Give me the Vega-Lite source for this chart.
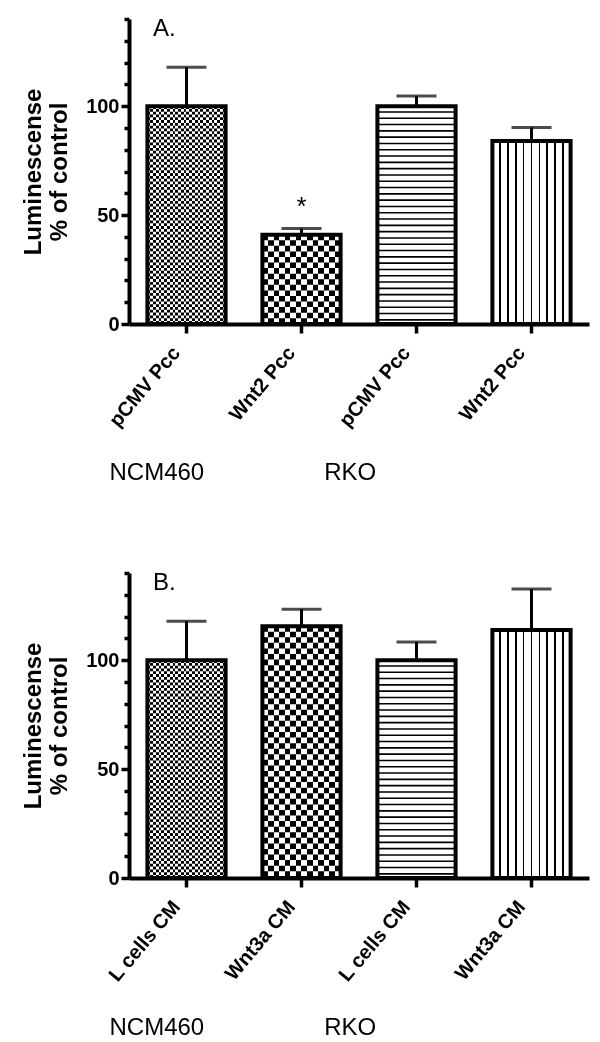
{
"$schema": "https://vega.github.io/schema/vega-lite/v6.json",
"background": "white",
"padding": {"left": 21, "top": 17, "right": 5, "bottom": 5},
"spacing": 86,
"config": {
  "font": "Liberation Sans",
  "view": {"stroke": null},
  "axis": {"domainColor": "black", "domainWidth": 4, "tickColor": "black", "tickWidth": 3.5, "labelColor": "black", "titleColor": "black", "grid": false},
  "title": {"color": "black"}
},
"datasets": {
  "a": [
    {"key": "NCM460|pCMV Pcc", "mean": 100, "err": 117.8, "i": 1},
    {"key": "NCM460|Wnt2 Pcc", "mean": 41, "err": 43.8, "i": 2, "sig": "*"},
    {"key": "RKO|pCMV Pcc", "mean": 100, "err": 104.7, "i": 3},
    {"key": "RKO|Wnt2 Pcc", "mean": 84, "err": 90.2, "i": 4}
  ],
  "b": [
    {"key": "NCM460|L cells CM", "mean": 100, "err": 117.9, "i": 1},
    {"key": "NCM460|Wnt3a CM", "mean": 115.6, "err": 123.4, "i": 2},
    {"key": "RKO|L cells CM", "mean": 100, "err": 108.3, "i": 3},
    {"key": "RKO|Wnt3a CM", "mean": 113.8, "err": 132.6, "i": 4}
  ]
},
"vconcat": [
{
  "width": 460, "height": 305,
  "data": {"name": "a"},
  "title": {"text": "A.", "anchor": "start", "frame": "group", "fontSize": 24, "fontWeight": "normal", "dx": 24, "offset": -24},
  "encoding": {
    "x": {"field": "key", "type": "nominal", "sort": null, "scale": {"paddingInner": 0.32, "paddingOuter": 0.16},
      "axis": {"labelExpr": "split(datum.label,'|')[1]", "labelAngle": -50, "labelAlign": "right", "labelBaseline": "middle", "labelFontSize": 20, "labelFontWeight": "bold", "labelPadding": 16, "labelOffset": -10, "tickSize": 9,
        "title": "NCM460\u00a0\u00a0\u00a0\u00a0\u00a0\u00a0\u00a0\u00a0\u00a0\u00a0\u00a0\u00a0\u00a0\u00a0\u00a0\u00a0\u00a0\u00a0RKO", "titleFontSize": 24, "titleFontWeight": "normal", "titleX": -20, "titleAlign": "left", "titlePadding": 30}},
    "y": {"field": "mean", "type": "quantitative", "scale": {"domain": [0, 140], "nice": false},
      "axis": {"values": [0,10,20,30,40,50,60,70,80,90,100,110,120,130,140], "labelExpr": "datum.value % 50 === 0 ? datum.label : ''", "tickSize": 8, "tickDash": {"condition": {"test": "datum.value % 50 === 0", "value": [10, 0]}, "value": [5, 20]}, "labelFontSize": 20, "labelFontWeight": "bold", "labelPadding": 2, "title": ["Luminescense", "% of control"], "titleFontSize": 24, "titleFontWeight": "bold", "titlePadding": 14, "titleLineHeight": 26}}
  },
  "layer": [
    {"transform": [{"filter": "datum.i == 1"}], "mark": {"type": "rule", "strokeWidth": 78, "color": "black", "strokeDash": [2.79, 2.79]}, "encoding": {"y2": {"datum": 0}}},
    {"transform": [{"filter": "datum.i == 2"}], "mark": {"type": "rule", "strokeWidth": 78, "color": "black", "strokeDash": [5.57, 5.57]}, "encoding": {"y2": {"datum": 0}}},
    {"transform": [{"filter": "datum.i == 1"}], "mark": {"type": "bar", "blend": "difference", "fill": {"gradient": "linear", "x1": 0, "y1": 0, "x2": 1, "y2": 0, "stops": [{"offset":0,"color":"black"},{"offset":0.0357,"color":"black"},{"offset":0.0357,"color":"white"},{"offset":0.0714,"color":"white"},{"offset":0.0714,"color":"black"},{"offset":0.1071,"color":"black"},{"offset":0.1071,"color":"white"},{"offset":0.1429,"color":"white"},{"offset":0.1429,"color":"black"},{"offset":0.1786,"color":"black"},{"offset":0.1786,"color":"white"},{"offset":0.2143,"color":"white"},{"offset":0.2143,"color":"black"},{"offset":0.25,"color":"black"},{"offset":0.25,"color":"white"},{"offset":0.2857,"color":"white"},{"offset":0.2857,"color":"black"},{"offset":0.3214,"color":"black"},{"offset":0.3214,"color":"white"},{"offset":0.3571,"color":"white"},{"offset":0.3571,"color":"black"},{"offset":0.3929,"color":"black"},{"offset":0.3929,"color":"white"},{"offset":0.4286,"color":"white"},{"offset":0.4286,"color":"black"},{"offset":0.4643,"color":"black"},{"offset":0.4643,"color":"white"},{"offset":0.5,"color":"white"},{"offset":0.5,"color":"black"},{"offset":0.5357,"color":"black"},{"offset":0.5357,"color":"white"},{"offset":0.5714,"color":"white"},{"offset":0.5714,"color":"black"},{"offset":0.6071,"color":"black"},{"offset":0.6071,"color":"white"},{"offset":0.6429,"color":"white"},{"offset":0.6429,"color":"black"},{"offset":0.6786,"color":"black"},{"offset":0.6786,"color":"white"},{"offset":0.7143,"color":"white"},{"offset":0.7143,"color":"black"},{"offset":0.75,"color":"black"},{"offset":0.75,"color":"white"},{"offset":0.7857,"color":"white"},{"offset":0.7857,"color":"black"},{"offset":0.8214,"color":"black"},{"offset":0.8214,"color":"white"},{"offset":0.8571,"color":"white"},{"offset":0.8571,"color":"black"},{"offset":0.8929,"color":"black"},{"offset":0.8929,"color":"white"},{"offset":0.9286,"color":"white"},{"offset":0.9286,"color":"black"},{"offset":0.9643,"color":"black"},{"offset":0.9643,"color":"white"},{"offset":1,"color":"white"}]}}},
    {"transform": [{"filter": "datum.i == 2"}], "mark": {"type": "bar", "blend": "difference", "fill": {"gradient": "linear", "x1": 0, "y1": 0, "x2": 1, "y2": 0, "stops": [{"offset":0,"color":"black"},{"offset":0.0714,"color":"black"},{"offset":0.0714,"color":"white"},{"offset":0.1429,"color":"white"},{"offset":0.1429,"color":"black"},{"offset":0.2143,"color":"black"},{"offset":0.2143,"color":"white"},{"offset":0.2857,"color":"white"},{"offset":0.2857,"color":"black"},{"offset":0.3571,"color":"black"},{"offset":0.3571,"color":"white"},{"offset":0.4286,"color":"white"},{"offset":0.4286,"color":"black"},{"offset":0.5,"color":"black"},{"offset":0.5,"color":"white"},{"offset":0.5714,"color":"white"},{"offset":0.5714,"color":"black"},{"offset":0.6429,"color":"black"},{"offset":0.6429,"color":"white"},{"offset":0.7143,"color":"white"},{"offset":0.7143,"color":"black"},{"offset":0.7857,"color":"black"},{"offset":0.7857,"color":"white"},{"offset":0.8571,"color":"white"},{"offset":0.8571,"color":"black"},{"offset":0.9286,"color":"black"},{"offset":0.9286,"color":"white"},{"offset":1,"color":"white"}]}}},
    {"transform": [{"filter": "datum.i == 3"}], "mark": {"type": "rule", "strokeWidth": 78, "color": "black", "strokeDash": [1.6, 4.7], "strokeDashOffset": -5}, "encoding": {"y2": {"datum": 0}}},
    {"transform": [{"filter": "datum.i == 4"}], "mark": {"type": "bar", "fill": {"gradient": "linear", "x1": 0, "y1": 0, "x2": 1, "y2": 0, "stops": [{"offset":0,"color":"white"},{"offset":0.09,"color":"white"},{"offset":0.09,"color":"black"},{"offset":0.11,"color":"black"},{"offset":0.11,"color":"white"},{"offset":0.19,"color":"white"},{"offset":0.19,"color":"black"},{"offset":0.21,"color":"black"},{"offset":0.21,"color":"white"},{"offset":0.29,"color":"white"},{"offset":0.29,"color":"black"},{"offset":0.31,"color":"black"},{"offset":0.31,"color":"white"},{"offset":0.39,"color":"white"},{"offset":0.39,"color":"black"},{"offset":0.41,"color":"black"},{"offset":0.41,"color":"white"},{"offset":0.49,"color":"white"},{"offset":0.49,"color":"black"},{"offset":0.51,"color":"black"},{"offset":0.51,"color":"white"},{"offset":0.59,"color":"white"},{"offset":0.59,"color":"black"},{"offset":0.61,"color":"black"},{"offset":0.61,"color":"white"},{"offset":0.69,"color":"white"},{"offset":0.69,"color":"black"},{"offset":0.71,"color":"black"},{"offset":0.71,"color":"white"},{"offset":0.79,"color":"white"},{"offset":0.79,"color":"black"},{"offset":0.81,"color":"black"},{"offset":0.81,"color":"white"},{"offset":0.89,"color":"white"},{"offset":0.89,"color":"black"},{"offset":0.91,"color":"black"},{"offset":0.91,"color":"white"},{"offset":1,"color":"white"}]}}},
    {"mark": {"type": "bar", "fill": "white", "fillOpacity": 0, "stroke": "black", "strokeWidth": 4}},
    {"mark": {"type": "rule", "strokeWidth": 3, "color": "black"}, "encoding": {"y2": {"field": "err"}}},
    {"mark": {"type": "tick", "orient": "horizontal", "size": 40, "thickness": 3, "color": "black"}, "encoding": {"y": {"field": "err", "type": "quantitative"}}},
    {"transform": [{"filter": "datum.sig"}], "mark": {"type": "text", "fontSize": 26, "baseline": "alphabetic", "dy": -14, "color": "black"}, "encoding": {"y": {"field": "err", "type": "quantitative"}, "text": {"field": "sig"}}}
  ]
},
{
  "width": 460, "height": 305,
  "data": {"name": "b"},
  "title": {"text": "B.", "anchor": "start", "frame": "group", "fontSize": 24, "fontWeight": "normal", "dx": 24, "offset": -24},
  "encoding": {
    "x": {"field": "key", "type": "nominal", "sort": null, "scale": {"paddingInner": 0.32, "paddingOuter": 0.16},
      "axis": {"labelExpr": "split(datum.label,'|')[1]", "labelAngle": -50, "labelAlign": "right", "labelBaseline": "middle", "labelFontSize": 20, "labelFontWeight": "bold", "labelPadding": 16, "labelOffset": -10, "tickSize": 9,
        "title": "NCM460\u00a0\u00a0\u00a0\u00a0\u00a0\u00a0\u00a0\u00a0\u00a0\u00a0\u00a0\u00a0\u00a0\u00a0\u00a0\u00a0\u00a0\u00a0RKO", "titleFontSize": 24, "titleFontWeight": "normal", "titleX": -20, "titleAlign": "left", "titlePadding": 30}},
    "y": {"field": "mean", "type": "quantitative", "scale": {"domain": [0, 140], "nice": false},
      "axis": {"values": [0,10,20,30,40,50,60,70,80,90,100,110,120,130,140], "labelExpr": "datum.value % 50 === 0 ? datum.label : ''", "tickSize": 8, "tickDash": {"condition": {"test": "datum.value % 50 === 0", "value": [10, 0]}, "value": [5, 20]}, "labelFontSize": 20, "labelFontWeight": "bold", "labelPadding": 2, "title": ["Luminescense", "% of control"], "titleFontSize": 24, "titleFontWeight": "bold", "titlePadding": 14, "titleLineHeight": 26}}
  },
  "layer": [
    {"transform": [{"filter": "datum.i == 1"}], "mark": {"type": "rule", "strokeWidth": 78, "color": "black", "strokeDash": [2.79, 2.79]}, "encoding": {"y2": {"datum": 0}}},
    {"transform": [{"filter": "datum.i == 2"}], "mark": {"type": "rule", "strokeWidth": 78, "color": "black", "strokeDash": [5.57, 5.57]}, "encoding": {"y2": {"datum": 0}}},
    {"transform": [{"filter": "datum.i == 1"}], "mark": {"type": "bar", "blend": "difference", "fill": {"gradient": "linear", "x1": 0, "y1": 0, "x2": 1, "y2": 0, "stops": [{"offset":0,"color":"black"},{"offset":0.0357,"color":"black"},{"offset":0.0357,"color":"white"},{"offset":0.0714,"color":"white"},{"offset":0.0714,"color":"black"},{"offset":0.1071,"color":"black"},{"offset":0.1071,"color":"white"},{"offset":0.1429,"color":"white"},{"offset":0.1429,"color":"black"},{"offset":0.1786,"color":"black"},{"offset":0.1786,"color":"white"},{"offset":0.2143,"color":"white"},{"offset":0.2143,"color":"black"},{"offset":0.25,"color":"black"},{"offset":0.25,"color":"white"},{"offset":0.2857,"color":"white"},{"offset":0.2857,"color":"black"},{"offset":0.3214,"color":"black"},{"offset":0.3214,"color":"white"},{"offset":0.3571,"color":"white"},{"offset":0.3571,"color":"black"},{"offset":0.3929,"color":"black"},{"offset":0.3929,"color":"white"},{"offset":0.4286,"color":"white"},{"offset":0.4286,"color":"black"},{"offset":0.4643,"color":"black"},{"offset":0.4643,"color":"white"},{"offset":0.5,"color":"white"},{"offset":0.5,"color":"black"},{"offset":0.5357,"color":"black"},{"offset":0.5357,"color":"white"},{"offset":0.5714,"color":"white"},{"offset":0.5714,"color":"black"},{"offset":0.6071,"color":"black"},{"offset":0.6071,"color":"white"},{"offset":0.6429,"color":"white"},{"offset":0.6429,"color":"black"},{"offset":0.6786,"color":"black"},{"offset":0.6786,"color":"white"},{"offset":0.7143,"color":"white"},{"offset":0.7143,"color":"black"},{"offset":0.75,"color":"black"},{"offset":0.75,"color":"white"},{"offset":0.7857,"color":"white"},{"offset":0.7857,"color":"black"},{"offset":0.8214,"color":"black"},{"offset":0.8214,"color":"white"},{"offset":0.8571,"color":"white"},{"offset":0.8571,"color":"black"},{"offset":0.8929,"color":"black"},{"offset":0.8929,"color":"white"},{"offset":0.9286,"color":"white"},{"offset":0.9286,"color":"black"},{"offset":0.9643,"color":"black"},{"offset":0.9643,"color":"white"},{"offset":1,"color":"white"}]}}},
    {"transform": [{"filter": "datum.i == 2"}], "mark": {"type": "bar", "blend": "difference", "fill": {"gradient": "linear", "x1": 0, "y1": 0, "x2": 1, "y2": 0, "stops": [{"offset":0,"color":"black"},{"offset":0.0714,"color":"black"},{"offset":0.0714,"color":"white"},{"offset":0.1429,"color":"white"},{"offset":0.1429,"color":"black"},{"offset":0.2143,"color":"black"},{"offset":0.2143,"color":"white"},{"offset":0.2857,"color":"white"},{"offset":0.2857,"color":"black"},{"offset":0.3571,"color":"black"},{"offset":0.3571,"color":"white"},{"offset":0.4286,"color":"white"},{"offset":0.4286,"color":"black"},{"offset":0.5,"color":"black"},{"offset":0.5,"color":"white"},{"offset":0.5714,"color":"white"},{"offset":0.5714,"color":"black"},{"offset":0.6429,"color":"black"},{"offset":0.6429,"color":"white"},{"offset":0.7143,"color":"white"},{"offset":0.7143,"color":"black"},{"offset":0.7857,"color":"black"},{"offset":0.7857,"color":"white"},{"offset":0.8571,"color":"white"},{"offset":0.8571,"color":"black"},{"offset":0.9286,"color":"black"},{"offset":0.9286,"color":"white"},{"offset":1,"color":"white"}]}}},
    {"transform": [{"filter": "datum.i == 3"}], "mark": {"type": "rule", "strokeWidth": 78, "color": "black", "strokeDash": [1.6, 4.7], "strokeDashOffset": -5}, "encoding": {"y2": {"datum": 0}}},
    {"transform": [{"filter": "datum.i == 4"}], "mark": {"type": "bar", "fill": {"gradient": "linear", "x1": 0, "y1": 0, "x2": 1, "y2": 0, "stops": [{"offset":0,"color":"white"},{"offset":0.09,"color":"white"},{"offset":0.09,"color":"black"},{"offset":0.11,"color":"black"},{"offset":0.11,"color":"white"},{"offset":0.19,"color":"white"},{"offset":0.19,"color":"black"},{"offset":0.21,"color":"black"},{"offset":0.21,"color":"white"},{"offset":0.29,"color":"white"},{"offset":0.29,"color":"black"},{"offset":0.31,"color":"black"},{"offset":0.31,"color":"white"},{"offset":0.39,"color":"white"},{"offset":0.39,"color":"black"},{"offset":0.41,"color":"black"},{"offset":0.41,"color":"white"},{"offset":0.49,"color":"white"},{"offset":0.49,"color":"black"},{"offset":0.51,"color":"black"},{"offset":0.51,"color":"white"},{"offset":0.59,"color":"white"},{"offset":0.59,"color":"black"},{"offset":0.61,"color":"black"},{"offset":0.61,"color":"white"},{"offset":0.69,"color":"white"},{"offset":0.69,"color":"black"},{"offset":0.71,"color":"black"},{"offset":0.71,"color":"white"},{"offset":0.79,"color":"white"},{"offset":0.79,"color":"black"},{"offset":0.81,"color":"black"},{"offset":0.81,"color":"white"},{"offset":0.89,"color":"white"},{"offset":0.89,"color":"black"},{"offset":0.91,"color":"black"},{"offset":0.91,"color":"white"},{"offset":1,"color":"white"}]}}},
    {"mark": {"type": "bar", "fill": "white", "fillOpacity": 0, "stroke": "black", "strokeWidth": 4}},
    {"mark": {"type": "rule", "strokeWidth": 3, "color": "black"}, "encoding": {"y2": {"field": "err"}}},
    {"mark": {"type": "tick", "orient": "horizontal", "size": 40, "thickness": 3, "color": "black"}, "encoding": {"y": {"field": "err", "type": "quantitative"}}}
  ]
}
]
}
